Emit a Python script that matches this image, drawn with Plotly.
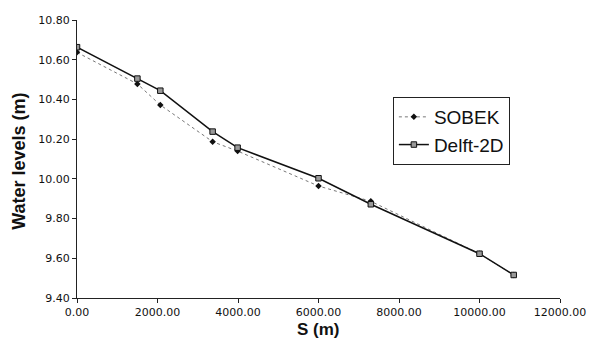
import plotly.graph_objects as go

s_m = [0, 1500, 2070, 3370, 3990, 6000, 7300, 10000, 10850]
sobek = [10.637, 10.478, 10.372, 10.187, 10.140, 9.964, 9.887, 9.623, 9.516]
delft = [10.663, 10.505, 10.444, 10.238, 10.157, 10.003, 9.872, 9.623, 9.516]
x_ticks = [0, 2000, 4000, 6000, 8000, 10000, 12000]
y_ticks = [9.4, 9.6, 9.8, 10.0, 10.2, 10.4, 10.6, 10.8]

FONT = "DejaVu Sans"
ARIAL = "Liberation Sans"

fig = go.Figure()
fig.add_trace(go.Scatter(
    x=s_m, y=sobek, name="SOBEK", mode="lines+markers",
    line=dict(color="#777777", width=1, dash="dot"),
    marker=dict(symbol="diamond", size=5, color="#111111"),
))
fig.add_trace(go.Scatter(
    x=s_m, y=delft, name="Delft-2D", mode="lines+markers",
    line=dict(color="#111111", width=1.5),
    marker=dict(symbol="square", size=5.5, color="#999999",
                line=dict(color="#111111", width=1)),
))

axis_common = dict(showgrid=False, zeroline=False, showline=True,
                   linecolor="#222222", linewidth=1, tickcolor="#222222",
                   ticklen=4)
fig.update_layout(
    width=598, height=338,
    margin=dict(l=77, r=29, t=20, b=40),
    paper_bgcolor="white", plot_bgcolor="white",
    font=dict(family=FONT, color="#111111"),
    showlegend=True,
    legend=dict(x=0.654, y=0.723, xanchor="left", yanchor="top",
                bordercolor="#222222", borderwidth=1, bgcolor="white",
                font=dict(family=ARIAL, size=19, color="#111111"),
                itemwidth=30, tracegroupgap=0),
    xaxis=dict(range=[0, 12000], tickvals=x_ticks, tickformat=".2f",
               ticks="outside", tickfont=dict(family=FONT, size=11),
               **axis_common),
    yaxis=dict(range=[9.4, 10.8], tickvals=y_ticks, tickformat=".2f",
               ticks="outside", tickfont=dict(family=FONT, size=11),
               **axis_common),
    xaxis2=dict(range=[0, 12000], tickvals=x_ticks, ticks="inside",
                showticklabels=False, overlaying="x", anchor="y2",
                side="bottom", **axis_common),
    yaxis2=dict(range=[9.4, 10.8], tickvals=y_ticks, ticks="inside",
                showticklabels=False, overlaying="y", anchor="x2",
                side="left", **axis_common),
)

fig.add_annotation(text="Water levels (m)", xref="paper", yref="paper",
                   x=-0.12, y=0.49, xanchor="center", yanchor="middle",
                   textangle=-90, showarrow=False,
                   font=dict(family=ARIAL, size=18, weight="bold", color="#111111"))
fig.add_annotation(text="S (m)", xref="paper", yref="paper",
                   x=0.5, y=-0.113, xanchor="center", yanchor="middle",
                   showarrow=False,
                   font=dict(family=ARIAL, size=17, weight="bold", color="#111111"))

fig.write_html("out.html")
